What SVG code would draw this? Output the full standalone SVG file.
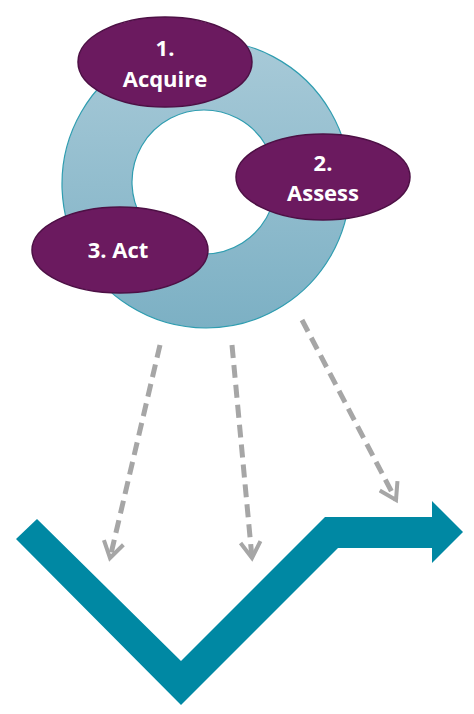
<svg xmlns="http://www.w3.org/2000/svg" width="474" height="714" viewBox="0 0 474 714">
<defs>
<linearGradient id="ring" x1="0" y1="0" x2="0" y2="1">
<stop offset="0" stop-color="#a8cad8"/>
<stop offset="1" stop-color="#7cb0c4"/>
</linearGradient>
<marker id="chev" viewBox="0 0 12 12" refX="10" refY="6" markerWidth="4.8" markerHeight="4.8" orient="auto" markerUnits="strokeWidth">
<path d="M2,1 L10,6 L2,11" fill="none" stroke="#a6a6a6" stroke-width="2" stroke-linecap="butt"/>
</marker>
<style>
.node ellipse{fill:#6b1a5f;stroke:#4d1045;stroke-width:1.5}
.node text{font-family:"Open Sans","Liberation Sans",sans-serif;font-weight:bold;font-size:22px;fill:#ffffff;text-anchor:middle}
.conn{fill:none;stroke:#a6a6a6;stroke-width:5;stroke-dasharray:13 7}
</style>
</defs>
<rect width="474" height="714" fill="#ffffff"/>
<g id="ring-shape">
<path d="M206,40 a144,144 0 1,0 0.01,0 Z M204,110 a72,72 0 1,1 -0.01,0 Z" fill="url(#ring)" fill-rule="evenodd" stroke="#2f9db0" stroke-width="1.2"/>
</g>
<g id="trend">
<polygon points="37,519 181,661 325,517 432,517 432,501 463,532 432,563 432,548 338,548 181,705 16,539" fill="#0088a3"/>
</g>
<g id="connectors">
<path class="conn" d="M160,345 L110,558" marker-end="url(#chev)"/>
<path class="conn" d="M232,345 L252,558" marker-end="url(#chev)"/>
<path class="conn" d="M302,320 L396,500" marker-end="url(#chev)"/>
</g>
<g id="node-acquire" class="node">
<ellipse cx="165" cy="62" rx="87" ry="45"/>
<text x="165" y="56">1.</text>
<text x="165" y="87">Acquire</text>
</g>
<g id="node-assess" class="node">
<ellipse cx="323" cy="177" rx="87" ry="43"/>
<text x="323" y="171">2.</text>
<text x="323" y="201">Assess</text>
</g>
<g id="node-act" class="node">
<ellipse cx="120" cy="250" rx="88" ry="43"/>
<text x="118" y="258">3. Act</text>
</g>
</svg>
